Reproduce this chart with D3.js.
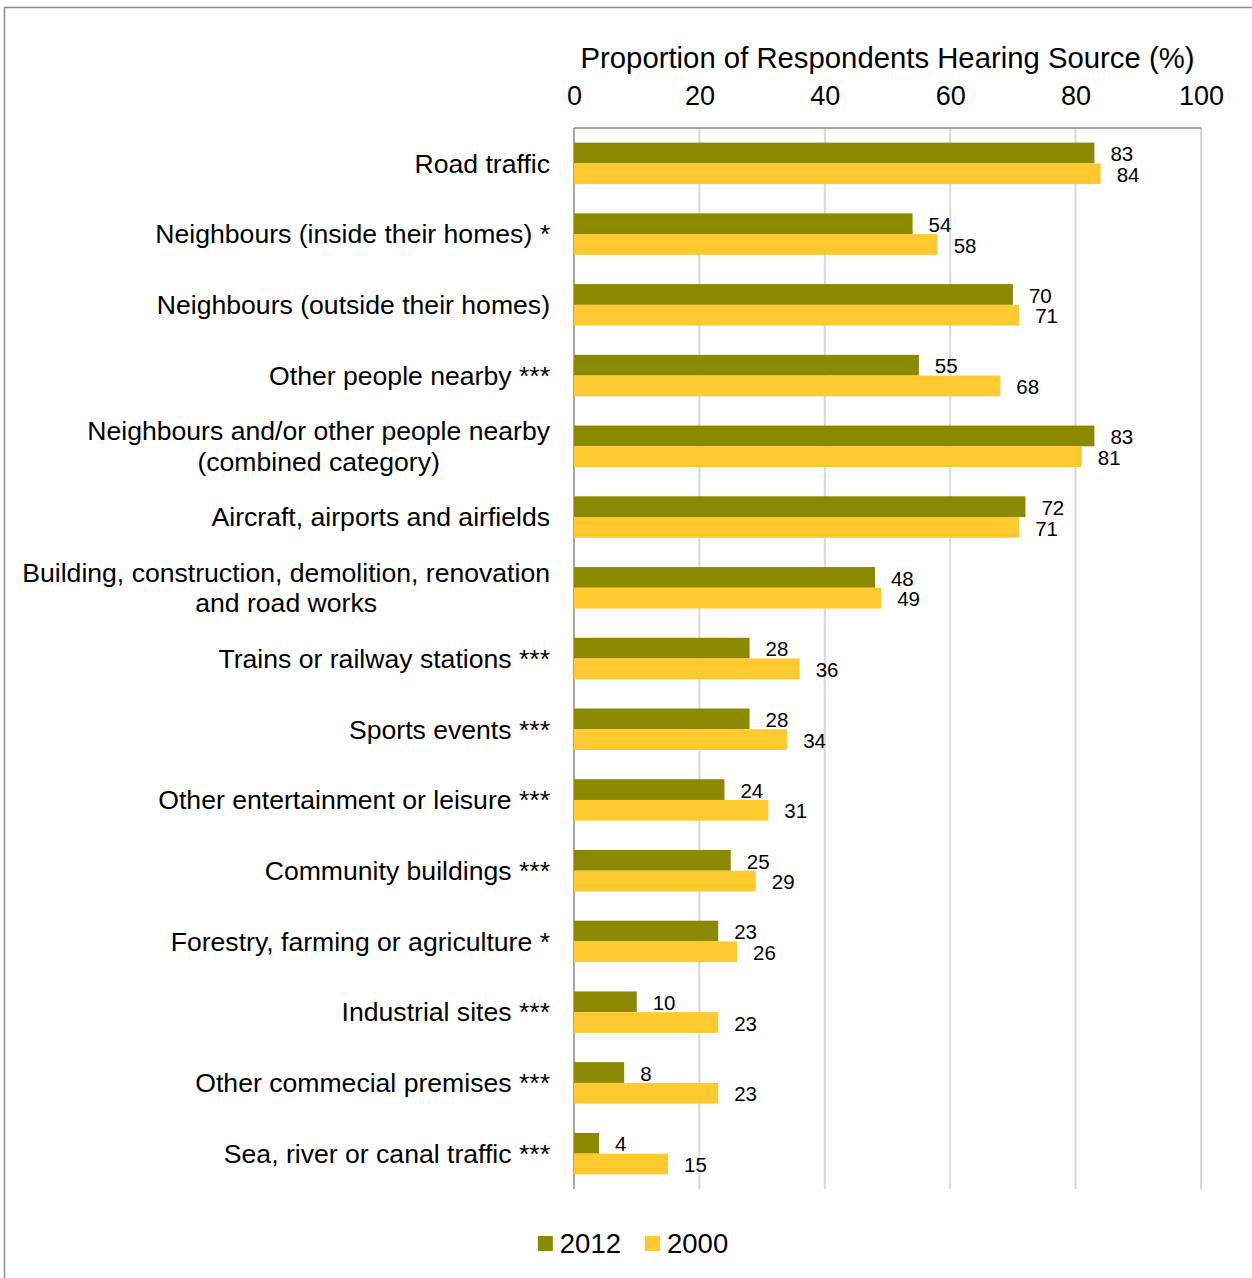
<!DOCTYPE html>
<html>
<head>
<meta charset="utf-8">
<script src="https://cdn.jsdelivr.net/npm/d3@7"></script>
<style>
  html, body { margin: 0; padding: 0; background: #fff; }
  svg { display: block; font-family: "Liberation Sans", Arial, sans-serif; }
</style>
</head>
<body>
<svg id="chart" width="1252" height="1278"></svg>
<script>
// Noise sources heard by respondents, 2012 vs 2000 survey
const categories = [
  "Road traffic",
  "Neighbours (inside their homes) *",
  "Neighbours (outside their homes)",
  "Other people nearby ***",
  "Neighbours and/or other people nearby\n(combined category)",
  "Aircraft, airports and airfields",
  "Building, construction, demolition, renovation\nand road works",
  "Trains or railway stations ***",
  "Sports events ***",
  "Other entertainment or leisure ***",
  "Community buildings ***",
  "Forestry, farming or agriculture *",
  "Industrial sites ***",
  "Other commecial premises ***",
  "Sea, river or canal traffic ***"
];
const values2012 = [83, 54, 70, 55, 83, 72, 48, 28, 28, 24, 25, 23, 10, 8, 4];
const values2000 = [84, 58, 71, 68, 81, 71, 49, 36, 34, 31, 29, 26, 23, 23, 15];
const seriesNames = ["2012", "2000"];
const seriesColors = ["#8b8900", "#ffca30"];
const tickValues = [0, 20, 40, 60, 80, 100];
const axisTitle = "Proportion of Respondents Hearing Source (%)";

const svg = d3.select("#chart");

// Outer frame
svg.append("rect")
  .attr("x", 4.5).attr("y", 7.5)
  .attr("width", 1300).attr("height", 1300)
  .attr("fill", "none").attr("stroke", "#8c8c8c").attr("stroke-width", 1.5);

const plotLeft = 574, plotRight = 1201, plotTop = 128, plotBottom = 1189;

const x = d3.scaleLinear().domain([0, 100]).range([plotLeft, plotRight]);
const y = d3.scaleBand().domain(categories).range([plotTop, plotBottom])
  .paddingInner(0.414).paddingOuter(0.207);
const ySub = d3.scaleBand().domain(seriesNames).range([0, y.bandwidth()]);

// Gridlines
svg.append("g").selectAll("line")
  .data(tickValues.filter(t => t > 0))
  .join("line")
  .attr("x1", d => x(d)).attr("x2", d => x(d))
  .attr("y1", plotTop).attr("y2", plotBottom)
  .attr("stroke", "#d9d9d9").attr("stroke-width", 2);

// Axis lines (top and left)
svg.append("line")
  .attr("x1", plotLeft).attr("x2", plotRight).attr("y1", plotTop).attr("y2", plotTop)
  .attr("stroke", "#8a8a8a").attr("stroke-width", 1.5);
svg.append("line")
  .attr("x1", plotLeft).attr("x2", plotLeft).attr("y1", plotTop).attr("y2", plotBottom)
  .attr("stroke", "#8a8a8a").attr("stroke-width", 1.5);

// Top axis tick labels
const axisG = svg.append("g")
  .attr("transform", `translate(0,${plotTop})`)
  .call(d3.axisTop(x).tickValues(tickValues).tickSize(0).tickPadding(23).tickFormat(d3.format("d")));
axisG.select(".domain").remove();
axisG.selectAll("text")
  .attr("font-size", 27).attr("fill", "#000")
  .style("font-family", '"Liberation Sans", Arial, sans-serif');

// Axis title
svg.append("text")
  .attr("x", (plotLeft + plotRight) / 2).attr("y", 68)
  .attr("text-anchor", "middle")
  .attr("font-size", 29.3).attr("fill", "#000")
  .text(axisTitle);

// Bars
const rows = categories.map((c, i) => ({
  cat: c,
  vals: [ { s: seriesNames[0], v: values2012[i] }, { s: seriesNames[1], v: values2000[i] } ]
}));

const rowG = svg.append("g").selectAll("g")
  .data(rows).join("g")
  .attr("transform", d => `translate(0,${y(d.cat)})`);

rowG.selectAll("rect")
  .data(d => d.vals).join("rect")
  .attr("x", x(0))
  .attr("y", d => ySub(d.s))
  .attr("width", d => x(d.v) - x(0))
  .attr("height", ySub.bandwidth())
  .attr("fill", (d, i) => seriesColors[i]);

// Value labels
rowG.selectAll("text.val")
  .data(d => d.vals).join("text")
  .attr("class", "val")
  .attr("x", d => x(d.v) + 16)
  .attr("y", d => ySub(d.s) + ySub.bandwidth() / 2 + 1)
  .attr("dy", "0.35em")
  .attr("font-size", 20.5).attr("fill", "#000")
  .text(d => d.v);

// Category labels: block right-aligned to the axis, lines centred within the block
const labelRight = 550;
const catG = svg.append("g").selectAll("text")
  .data(categories).join("text")
  .attr("text-anchor", "middle")
  .attr("font-size", 26.6).attr("fill", "#000");
catG.each(function(d) {
  const el = d3.select(this);
  const lines = d.split("\n");
  const cy = y(d) + y.bandwidth() / 2;
  const lh = 30.5;
  const start = cy - (lines.length - 1) * lh / 2;
  const spans = el.selectAll("tspan").data(lines).join("tspan")
    .attr("y", (l, i) => start + i * lh)
    .attr("dy", "0.35em")
    .text(l => l);
  const maxW = d3.max(spans.nodes(), n => n.getComputedTextLength());
  spans.attr("x", labelRight - maxW / 2);
});

// Legend
const legend = svg.append("g");
let lx = 0;
seriesNames.forEach((s, i) => {
  legend.append("rect")
    .attr("x", lx).attr("y", 1236).attr("width", 15).attr("height", 15)
    .attr("fill", seriesColors[i]);
  const t = legend.append("text")
    .attr("x", lx + 22).attr("y", 1253)
    .attr("font-size", 27.5).attr("fill", "#000")
    .text(s);
  lx += 22 + t.node().getComputedTextLength() + 24;
});
const lw = lx - 24;
legend.attr("transform", `translate(${633 - lw / 2},0)`);
</script>
</body>
</html>
